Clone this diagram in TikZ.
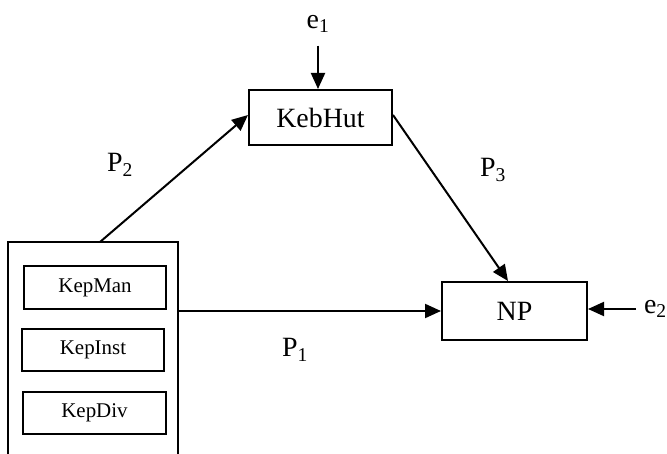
\documentclass[tikz,border=0pt]{standalone}
\usepackage{fontspec}
\setmainfont{Liberation Serif}
\usetikzlibrary{arrows.meta,calc}
\begin{document}
\begin{tikzpicture}[x=1bp,y=-1bp,
  line width=2bp,
  blk/.style={draw, rectangle, inner sep=0pt, font=\fontsize{28}{30}\selectfont},
  subbox/.style={draw, rectangle, inner sep=0pt, minimum width=142bp,
    minimum height=42bp, font=\fontsize{21}{24}\selectfont},
  lbl/.style={inner sep=0pt, font=\fontsize{28}{30}\selectfont},
  arr/.style={-{Triangle[length=16bp,width=14bp]}}
]
\useasboundingbox (0,0) rectangle (667,454);

% main blocks
\node[blk, minimum width=143bp, minimum height=55bp] (kebhut) at (320.5,117.5) {KebHut};
\node[blk, minimum width=145bp, minimum height=58bp] (np) at (514.5,311) {NP};

% open-bottomed group holding the three policy boxes
\node[minimum width=168bp, minimum height=213bp, inner sep=0pt] (grp) at (93,349.5) {};
\draw (grp.south west) -- (grp.north west) -- (grp.north east) -- (grp.south east);
\node[subbox] (kepman) at (95,287.5) {KepMan};
\node[subbox] (kepinst) at (93,350) {KepInst};
\node[subbox] (kepdiv) at (94.5,412.5) {KepDiv};

% labels
\node[lbl] (e1) at (318,24) {e\textsubscript{1}};
\node[lbl, anchor=west] (e2) at (643,309) {e\textsubscript{2}};
\node[lbl] (p2) at (120,165) {P\textsubscript{2}};
\node[lbl] (p1) at (295,350) {P\textsubscript{1}};
\node[lbl] (p3) at (493,170) {P\textsubscript{3}};

% connectors
\draw[arr] ([xshift=7bp]grp.north) -- ([yshift=2.5bp]kebhut.west);
\draw[arr] ([yshift=2.5bp]kebhut.east) -- ([xshift=-6.5bp]np.north);
\draw[arr] (grp.east |- np.west) -- (np.west);
\draw[arr, shorten <=12bp] (e1.south) -- (e1.south |- kebhut.north);
\draw[arr, shorten <=7bp] (e2.west) -- (np.east |- e2.west);
\end{tikzpicture}
\end{document}
